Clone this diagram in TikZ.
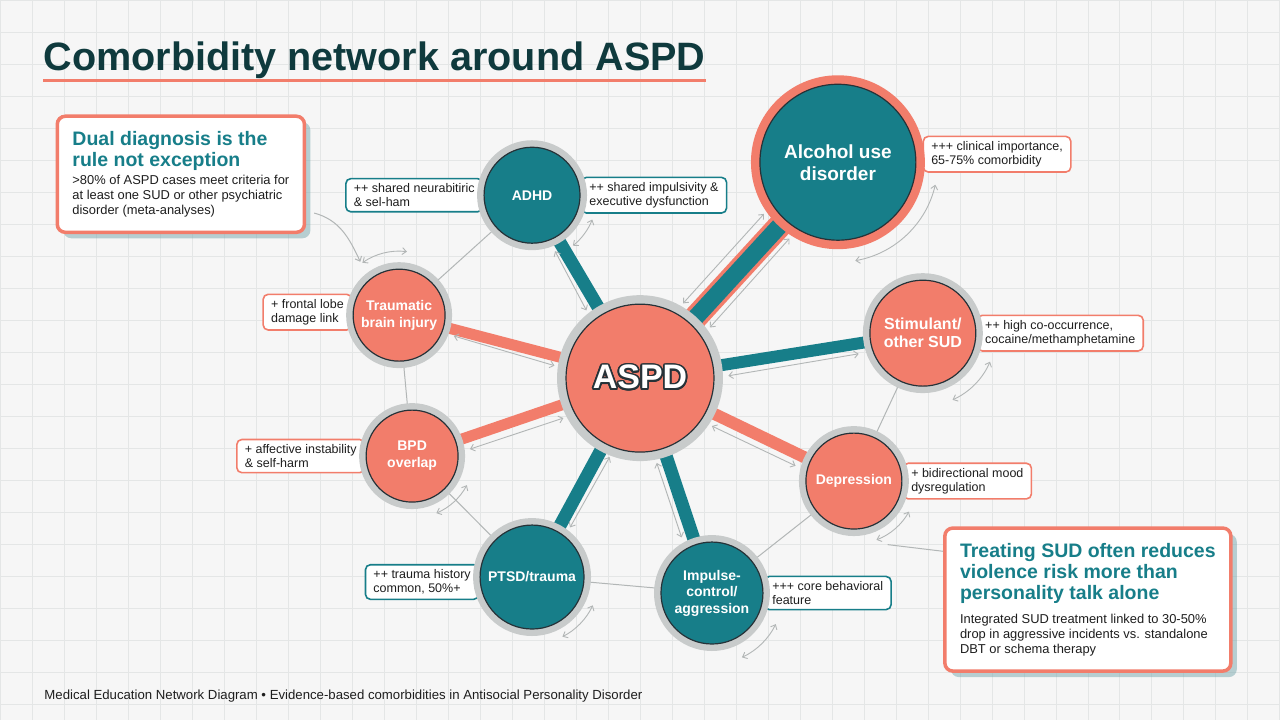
\documentclass[tikz,border=0pt]{standalone}
\usepackage{fontspec}
\setmainfont{Liberation Sans}
\setsansfont{Liberation Sans}
\usepackage{contour}
\usetikzlibrary{positioning, arrows.meta, calc, fit, backgrounds, shadows}
\definecolor{cTeal}{HTML}{177E89}
\definecolor{cCoral}{HTML}{F27D6B}
\definecolor{cInk}{HTML}{263238}
\definecolor{cRing}{HTML}{C8CBCB}
\definecolor{cTitle}{HTML}{0F3A3D}
\definecolor{cText}{HTML}{1E1E1E}
\definecolor{cGrid}{HTML}{E4E6E6}
\definecolor{cPaper}{HTML}{F6F6F6}
\definecolor{cLink}{HTML}{B2B6B6}
\contourlength{1.8pt}
\tikzset{
  disorder/.style={
    circle, fill=#1, draw=cInk, line width=1.2pt, inner sep=0pt,
    align=center, text=white, font=\bfseries\fontsize{14}{17}\selectfont
  },
  halo/.style={preaction={draw=#1, line width=14pt}},
  bighalo/.style={preaction={draw=#1, line width=18pt}},
  tagbox/.style={
    draw=#1, fill=white, line width=1.6pt, rounded corners=5pt,
    align=left, inner xsep=8pt, inner ysep=5pt, text=cText,
    font=\fontsize{12.5}{14}\selectfont
  },
  spoke/.style={draw=#1, line width=12pt},
  link/.style={draw=cLink, line width=1pt},
  twoway/.style={
    {Straight Barb[length=4pt, width=7pt]}-{Straight Barb[length=4pt, width=7pt]},
    draw=cLink, line width=0.9pt
  },
  gridline/.style={draw=cGrid, line width=0.6pt},
  notetitle/.style={
    inner sep=0pt, align=left, text=cTeal,
    font=\bfseries\fontsize{19.5}{21}\selectfont
  },
  notebody/.style={
    inner sep=0pt, align=left, text=cText,
    font=\fontsize{12.9}{14.8}\selectfont
  },
  notebox/.style={
    draw=cCoral, fill=white, line width=3.5pt, rounded corners=8pt,
    inner xsep=15pt, inner ysep=15pt,
    drop shadow={shadow xshift=6pt, shadow yshift=-6pt,
                 fill=cTeal!45!cRing, opacity=0.5}
  },
}

\begin{document}
\begin{tikzpicture}[x=1pt, y=1pt]

% ---- Paper ----
\begin{pgfonlayer}{background}
  \fill[cPaper] (0,0) rectangle (1280,-720);
  \draw[gridline] (0,0) grid[step=32] (1280,-720);
\end{pgfonlayer}
\useasboundingbox (0,0) rectangle (1280,-720);

% ---- Title ----
\node[anchor=base west, inner sep=0pt, text=cTitle,
      font=\bfseries\fontsize{39.6}{44}\selectfont]
  (title) at (43,-70) {Comorbidity network around ASPD};
\draw[cCoral, line width=3pt] (title.west |- 0,-80) -- (title.east |- 0,-80);

% ---- Hub ----
\node[disorder=cCoral, bighalo=cRing, minimum size=148pt,
      font=\bfseries\fontsize{34}{38}\selectfont]
  (aspd) at (640,-378) {\contour{cInk}{ASPD}};

% ---- Comorbid disorders ----
\node[disorder=cTeal, halo=cRing, minimum size=96pt] (adhd) at (532,-195) {ADHD};
\node[disorder=cTeal, bighalo=cCoral, minimum size=156pt,
      font=\bfseries\fontsize{19}{22}\selectfont]
  (alc) at (838,-162) {Alcohol use\\disorder};
\node[disorder=cCoral, halo=cRing, minimum size=106pt,
      font=\bfseries\fontsize{16}{18}\selectfont]
  (stim) at (923,-333) {Stimulant/\\other SUD};
\node[disorder=cCoral, halo=cRing, minimum size=96pt] (dep) at (854,-481) {Depression};
\node[disorder=cTeal, halo=cRing, minimum size=102pt,
      font=\bfseries\fontsize{14}{16.5}\selectfont]
  (imp) at (712,-593) {Impulse-\\control/\\aggression};
\node[disorder=cTeal, halo=cRing, minimum size=104pt] (ptsd) at (532,-577) {PTSD/trauma};
\node[disorder=cCoral, halo=cRing, minimum size=92pt] (bpd) at (412,-456) {BPD\\overlap};
\node[disorder=cCoral, halo=cRing, minimum size=92pt] (tbi) at (399,-315) {Traumatic\\brain injury};

% ---- Notes ----
\node[notetitle, anchor=north west] (note1title) at (72,-131)
  {Dual diagnosis is the\\rule not exception};
\node[notebody, below=4.5pt of note1title.south west, anchor=north west] (note1body)
  {>80\% of ASPD cases meet criteria for\\at least one SUD or other psychiatric\\disorder (meta-analyses)};

\node[notetitle, anchor=north west] (note2title) at (960,-543)
  {Treating SUD often reduces\\violence risk more than\\personality talk alone};
\node[notebody, below=10.5pt of note2title.south west, anchor=north west] (note2body)
  {Integrated SUD treatment linked to 30-50\%\\drop in aggressive incidents vs. standalone\\DBT or schema therapy};

% ---- Footer ----
\node[anchor=base west, inner sep=0pt, text=cText, font=\fontsize{13.2}{15}\selectfont]
  (footer) at (44,-700)
  {Medical Education Network Diagram • Evidence-based comorbidities in Antisocial Personality Disorder};

\begin{pgfonlayer}{background}
  % thin links between neighbours
  \draw[link] (tbi) -- (adhd);
  \draw[link] (tbi) -- (bpd);
  \draw[link] (bpd) -- (ptsd);
  \draw[link] (ptsd) -- (imp);
  \draw[link] (imp) -- (dep);
  \draw[link] (dep) -- (stim);

  % spokes from the hub
  \draw[spoke=cTeal, line width=13pt] (aspd) -- (adhd);
  \draw[spoke=cTeal, line width=17pt, preaction={draw=cCoral, line width=24pt}]
    (aspd) -- (alc);
  \draw[spoke=cTeal] (aspd) -- (stim);
  \draw[spoke=cCoral] (aspd) -- (dep);
  \draw[spoke=cTeal, line width=13pt] (aspd) -- (imp);
  \draw[spoke=cTeal, line width=13pt] (aspd) -- (ptsd);
  \draw[spoke=cCoral, line width=11pt] (aspd) -- (bpd);
  \draw[spoke=cCoral, line width=11pt] (aspd) -- (tbi);

  % labels
  \node[tagbox=cTeal, left=0pt of adhd] (adhdL) {++ shared neurabitiric\\\& sel-ham};
  \node[tagbox=cTeal, right=0pt of adhd] (adhdR) {++ shared impulsivity \&\\executive dysfunction};
  \node[tagbox=cCoral, right=6pt of alc, yshift=8pt] (alcR) {+++ clinical importance,\\65-75\% comorbidity};
  \node[tagbox=cCoral, right=0pt of stim] (stimR) {++ high co-occurrence,\\cocaine/methamphetamine};
  \node[tagbox=cCoral, right=0pt of dep] (depR) {+ bidirectional mood\\dysregulation};
  \node[tagbox=cTeal, right=0pt of imp] (impR) {+++ core behavioral\\feature};
  \node[tagbox=cTeal, left=0pt of ptsd, yshift=-5pt] (ptsdL) {++ trauma history\\common, 50\%+};
  \node[tagbox=cCoral, left=0pt of bpd] (bpdL) {+ affective instability\\\& self-harm};
  \node[tagbox=cCoral, left=0pt of tbi, yshift=3pt] (tbiL) {+ frontal lobe\\damage link};

  % note boxes
  \node[notebox, fit=(note1title)(note1body)] (note1) {};
  \node[notebox, fit=(note2title)(note2body)] (note2) {};
\end{pgfonlayer}

% ---- Note pointers ----
\draw[link, -{Straight Barb[length=4pt, width=7pt]}]
  ([shift={(8pt,21pt)}]note1.south east) to[out=-15, in=115]
  ([shift={(126:66)}]tbi.center);
\draw[link] ([yshift=-25pt]note2.north west) -- ([shift={(-62:72)}]dep.center);

% ---- Two-way arrows along spokes ----
\draw[twoway, shorten <=12pt, shorten >=12pt] (adhd.-69) -- (aspd.130);
\draw[twoway, shorten <=12pt, shorten >=12pt] (aspd.62) -- (alc.213);
\draw[twoway, shorten <=12pt, shorten >=12pt] (aspd.34) -- (alc.239);
\draw[twoway, shorten <=14pt, shorten >=14pt] (aspd.0) -- (stim.200);
\draw[twoway, shorten <=12pt, shorten >=12pt] (aspd.-35) -- (dep.168);
\draw[twoway, shorten <=12pt, shorten >=12pt] (aspd.-80) -- (imp.121);
\draw[twoway, shorten <=10pt, shorten >=10pt] (ptsd.51) -- (aspd.-110);
\draw[twoway, shorten <=12pt, shorten >=12pt] (bpd.4) -- (aspd.209);
\draw[twoway, shorten <=12pt, shorten >=12pt] (tbi.-22) -- (aspd.173);

% ---- Two-way arcs round the nodes ----
\draw[twoway] ([shift={(125:64)}]tbi.center) arc[start angle=125, end angle=83, radius=64];
\draw[twoway] ([shift={(-51:65)}]adhd.center) arc[start angle=-51, end angle=-22, radius=65];
\draw[twoway] ([shift={(-80:100)}]alc.center) arc[start angle=-80, end angle=-13, radius=100];
\draw[twoway] ([shift={(-66:73)}]stim.center) arc[start angle=-66, end angle=-23, radius=73];
\draw[twoway] ([shift={(-69:63)}]dep.center) arc[start angle=-69, end angle=-29, radius=63];
\draw[twoway] ([shift={(-65:71)}]imp.center) arc[start angle=-65, end angle=-26, radius=71];
\draw[twoway] ([shift={(-63:67)}]ptsd.center) arc[start angle=-63, end angle=-25, radius=67];
\draw[twoway] ([shift={(-67:62)}]bpd.center) arc[start angle=-67, end angle=-28, radius=62];

\end{tikzpicture}
\end{document}
